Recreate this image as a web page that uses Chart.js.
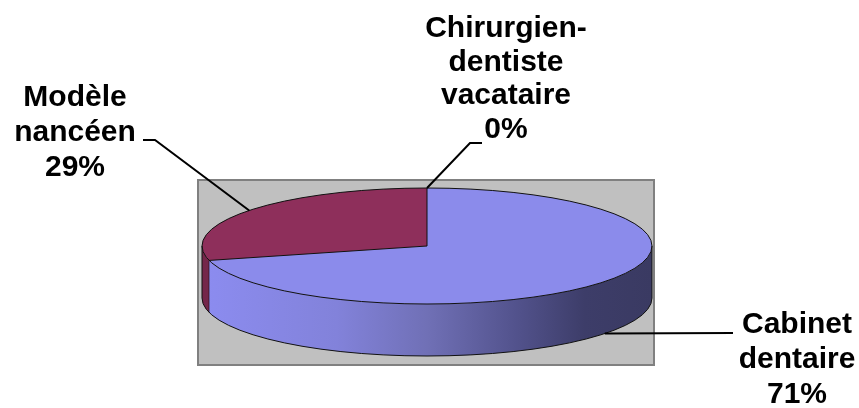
<!DOCTYPE html>
<html>
<head>
<meta charset="utf-8">
<script src="https://cdn.jsdelivr.net/npm/chart.js@4.4.1/dist/chart.umd.min.js"></script>
<style>
html,body{margin:0;padding:0;background:#ffffff;}
#wrap{width:859px;height:408px;position:relative;}
</style>
</head>
<body>
<div id="wrap"><canvas id="c" width="859" height="408"></canvas></div>
<script>
// ---- data ----
const categories = ['Cabinet dentaire', 'Modèle nancéen', 'Chirurgien-dentiste vacataire'];
const labelLines = [['Cabinet', 'dentaire'], ['Modèle', 'nancéen'], ['Chirurgien-', 'dentiste', 'vacataire']];
const shares = [71, 29, 0];

// ---- styles / layout ----
const topColors = ['#8B8BEB', '#8E2F5B', '#6A6AB8'];
const sideColors = [null, '#74264A', '#4A4A88'];
const DEPTH = 52;
const RADIUS = 225;
const FLATTEN = 58 / 225;
const labelLayout = [
  { x: 797, y0: 333, gap: 35, path: [[733, 333]] },
  { x: 75, y0: 106, gap: 35, path: [[155, 140], [143, 140]] },
  { x: 506, y0: 37, gap: 33.7, path: [[470, 143], [482, 143]] }
];

function frontRanges(s, e) {
  const out = [];
  for (const base of [-2 * Math.PI, 0, 2 * Math.PI]) {
    const a0 = Math.max(s, base), a1 = Math.min(e, base + Math.PI);
    if (a1 > a0) out.push([a0, a1]);
  }
  return out;
}
function inFront(a) {
  const n = ((a % (2 * Math.PI)) + 2 * Math.PI) % (2 * Math.PI);
  return n > 0 && n < Math.PI;
}

const pie3d = {
  id: 'pie3d',
  beforeDraw(chart) {
    const ctx = chart.ctx;
    ctx.save();
    ctx.fillStyle = '#C0C0C0';
    ctx.fillRect(198, 180, 456, 185);
    ctx.strokeStyle = '#808080';
    ctx.lineWidth = 2;
    ctx.strokeRect(198, 180, 456, 185);
    ctx.restore();
  },
  beforeDatasetsDraw(chart) {
    const ctx = chart.ctx;
    const meta = chart.getDatasetMeta(0);
    const first = meta.data[0];
    const cx = first.x, cy = first.y, R = first.outerRadius, ry = R * FLATTEN;
    const grad = ctx.createLinearGradient(cx - R, 0, cx + R, 0);
    grad.addColorStop(0, '#8C8CF0');
    grad.addColorStop(0.3, '#8282DA');
    grad.addColorStop(0.5, '#7070B6');
    grad.addColorStop(0.7, '#52528C');
    grad.addColorStop(0.85, '#3D3D69');
    grad.addColorStop(1, '#3A3A62');
    meta.data.forEach((arc, i) => {
      frontRanges(arc.startAngle, arc.endAngle).forEach(([s, e]) => {
        ctx.save();
        ctx.beginPath();
        ctx.ellipse(cx, cy, R, ry, 0, s, e, false);
        ctx.ellipse(cx, cy + DEPTH, R, ry, 0, e, s, true);
        ctx.closePath();
        ctx.fillStyle = i === 0 ? grad : sideColors[i];
        ctx.fill();
        ctx.restore();
      });
    });
    ctx.save();
    ctx.translate(0, cy);
    ctx.scale(1, FLATTEN);
    ctx.translate(0, -cy);
  },
  afterDatasetsDraw(chart) {
    const ctx = chart.ctx;
    ctx.restore();
    const meta = chart.getDatasetMeta(0);
    const first = meta.data[0];
    const cx = first.x, cy = first.y, R = first.outerRadius, ry = R * FLATTEN;
    ctx.save();
    ctx.strokeStyle = '#111';
    ctx.lineWidth = 1;
    ctx.beginPath();
    ctx.ellipse(cx, cy, R, ry, 0, 0, 2 * Math.PI);
    ctx.stroke();
    ctx.beginPath();
    ctx.ellipse(cx, cy + DEPTH, R, ry, 0, 0, Math.PI);
    ctx.stroke();
    ctx.beginPath();
    ctx.moveTo(cx - R, cy); ctx.lineTo(cx - R, cy + DEPTH);
    ctx.moveTo(cx + R, cy); ctx.lineTo(cx + R, cy + DEPTH);
    ctx.stroke();
    meta.data.forEach((arc) => {
      if (arc.endAngle - arc.startAngle <= 0) return;
      const a = arc.startAngle;
      const px = cx + R * Math.cos(a), py = cy + ry * Math.sin(a);
      ctx.beginPath();
      ctx.moveTo(cx, cy); ctx.lineTo(px, py);
      ctx.stroke();
      if (inFront(a)) {
        ctx.beginPath();
        ctx.strokeStyle = 'rgba(0,0,0,0.5)';
        ctx.moveTo(px, py); ctx.lineTo(px, py + DEPTH);
        ctx.stroke();
        ctx.strokeStyle = '#111';
      }
    });
    ctx.restore();
  },
  afterDraw(chart) {
    const ctx = chart.ctx;
    const meta = chart.getDatasetMeta(0);
    const first = meta.data[0];
    const cx = first.x, cy = first.y, R = first.outerRadius, ry = R * FLATTEN;
    const total = shares.reduce((a, b) => a + b, 0);
    ctx.save();
    ctx.strokeStyle = '#000';
    ctx.lineWidth = 2;
    ctx.fillStyle = '#000';
    ctx.font = 'bold 30px "Liberation Sans", Arial, sans-serif';
    ctx.textAlign = 'center';
    ctx.textBaseline = 'alphabetic';
    meta.data.forEach((arc, i) => {
      const m = (arc.startAngle + arc.endAngle) / 2;
      const sm = Math.sin(m);
      const ax = cx + R * Math.cos(m);
      const ay = cy + ry * sm + (sm > 0.05 ? DEPTH : 0);
      const L = labelLayout[i];
      ctx.beginPath();
      ctx.moveTo(ax, ay);
      L.path.forEach(([x, y]) => ctx.lineTo(x, y));
      ctx.stroke();
      const lines = labelLines[i].concat([Math.round(shares[i] / total * 100) + '%']);
      lines.forEach((t, j) => ctx.fillText(t, L.x, L.y0 + j * L.gap));
    });
    ctx.restore();
  }
};

new Chart(document.getElementById('c'), {
  type: 'pie',
  data: {
    labels: categories,
    datasets: [{
      data: shares,
      backgroundColor: topColors,
      borderWidth: 0,
      clip: false
    }]
  },
  options: {
    responsive: false,
    animation: false,
    radius: RADIUS,
    layout: { padding: { left: 0, right: 5, top: 84, bottom: 0 } },
    plugins: { legend: { display: false }, tooltip: { enabled: false } },
    events: []
  },
  plugins: [pie3d]
});
</script>
</body>
</html>
